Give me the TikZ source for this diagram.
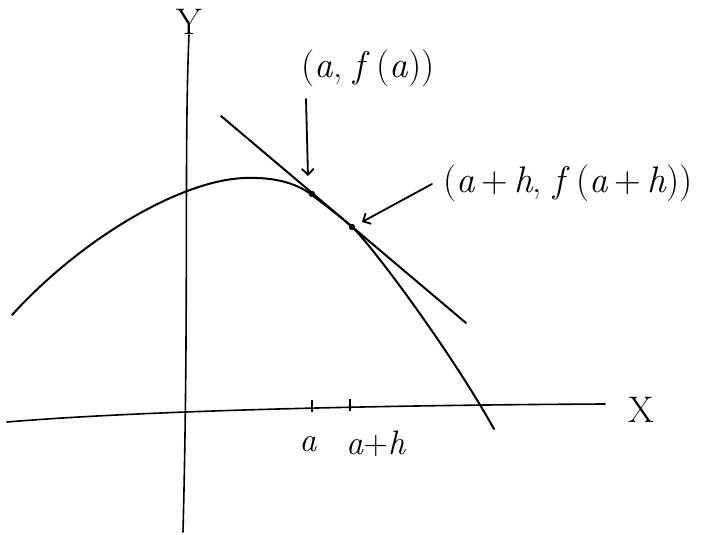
\documentclass[tikz,border=0pt]{standalone}
\usepackage{fontspec}
\usetikzlibrary{arrows.meta}
\newcommand{\vi}[1]{\textit{#1}}
\begin{document}
\begin{tikzpicture}[x=1pt,y=-1pt,
  axis/.style={line width=1.6pt, line cap=round},
  curveline/.style={line width=2pt, line cap=round},
  lbl/.style={font=\fontsize{37}{40}\selectfont, inner sep=0pt},
  small/.style={font=\fontsize{34}{36}\selectfont, inner sep=0pt},
  pointer/.style={line width=1.8pt, line cap=round, -{Straight Barb[length=6pt,width=12pt]}},
  tickmark/.style={line width=2.4pt}]
\useasboundingbox (0,0) rectangle (702,535);
% axes
\node[lbl] (ylbl) at (189,22) {Y};
\coordinate (ybot) at (183,532);
\draw[axis] (ylbl.south) .. controls (184,150) and (189,300) .. (ybot);
\coordinate (xleft) at (7,422);
\coordinate (xright) at (605,404);
\draw[axis] (xleft) .. controls (150,410) and (400,405) .. (xright);
\node[lbl] (xlbl) at (641,410) {X};
% curve
\coordinate (c0) at (12,315);
\coordinate (c1) at (245,178);
\coordinate (c2) at (312,195);
\coordinate (c3) at (352,227);
\coordinate (c4) at (494,429);
\draw[curveline] (c0) .. controls (80,240) and (180,180) .. (c1)
  .. controls (272,177) and (295,182) .. (c2)
  .. controls (326,206) and (340,216) .. (c3)
  .. controls (370,243) and (450,350) .. (c4);
% secant line
\coordinate (s1) at (221,116);
\coordinate (s2) at (466,323);
\draw[curveline] (s1) -- (s2);
% points
\coordinate (P) at (312,194);
\coordinate (Q) at (352,227);
\fill (P) circle (3.2);
\fill (Q) circle (3.2);
% ticks on x-axis
\coordinate (ta1) at (312,400);
\coordinate (ta2) at (312,412);
\coordinate (tb1) at (350,399);
\coordinate (tb2) at (350,411);
\draw[tickmark] (ta1) -- (ta2);
\draw[tickmark] (tb1) -- (tb2);
\node[small] (alabel) at (308,444) {\vi{a}};
\node[small] (ahlabel) at (376,444) {\vi{a}+\vi{h}};
% labels with pointers
\node[lbl] (pa) at (368,68) {(\vi{a}, \vi{f}\,(\vi{a}))};
\coordinate (pastart) at (306,99);
\coordinate (patip) at (308,176);
\draw[pointer] (pastart) -- (patip);
\node[lbl] (pq) at (568,183) {(\vi{a}\,+\,\vi{h}, \vi{f}\,(\vi{a}\,+\,\vi{h}))};
\coordinate (pqstart) at (432,184);
\coordinate (pqtip) at (362,222);
\draw[pointer] (pqstart) -- (pqtip);
\end{tikzpicture}
\end{document}
